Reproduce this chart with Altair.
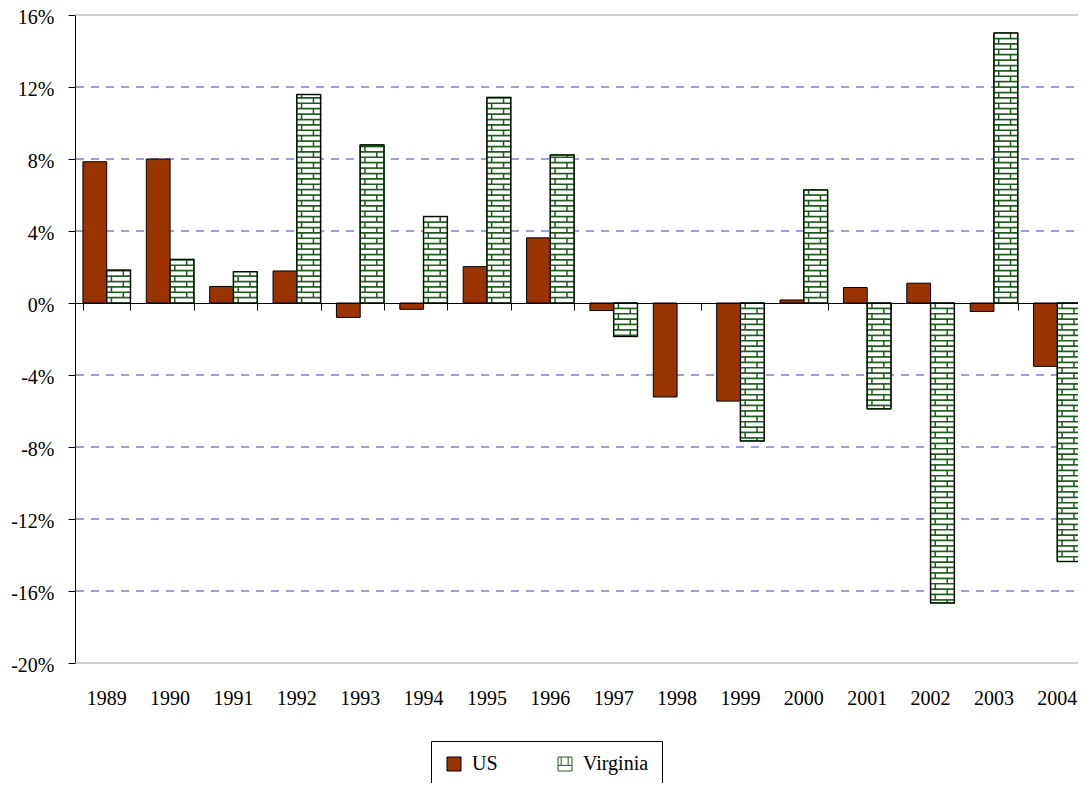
import altair as alt
import numpy as np
import pandas as pd

# ---- data ----
years = [str(y) for y in range(1989, 2005)]
series = ["US", "Virginia"]
us = [7.85, 8.0, 0.92, 1.78, -0.8, -0.35, 2.02, 3.62, -0.42, -5.22, -5.45, 0.17, 0.86, 1.1, -0.47, -3.52]
virginia = [1.82, 2.42, 1.74, 11.58, 8.78, 4.8, 11.42, 8.22, -1.86, 0.0, -7.66, 6.28, -5.88, -16.66, 15.0, -14.36]
y_ticks = [-20, -16, -12, -8, -4, 0, 4, 8, 12, 16]
grid_vals = [-16, -12, -8, -4, 4, 8, 12]
border_vals = [-20, 16]

# ---- styling ----
FONT = "Liberation Serif"
US_COLOR = "#993300"
GREEN = "#1e5c1e"
GRID_BLUE = "#4040b0"
W, H = 1014, 648
BRICK = 0.3  # brick row height in data units (pattern)
BRICK_SYMBOL = "M-1,-1H1V1H-1Z M-1,0.2H1 M-0.55,-1V0.2 M0.45,-1V0.2"

base_df = pd.DataFrame({
    "year": years * 2,
    "series": ["US"] * len(years) + ["Virginia"] * len(years),
    "value": us + virginia,
})
base_df = base_df[base_df["value"] != 0]
va_df = pd.DataFrame({"year": years, "series": "Virginia", "value": virginia})
va_df = va_df[va_df["value"] != 0]

# brick rows derived from the Virginia values (fill pattern)
rows = []
for yr, v in zip(years, virginia):
    n = int(np.ceil(abs(v) / BRICK - 1e-9))
    sgn = 1 if v >= 0 else -1
    for i in range(n):
        rows.append({"year": yr, "series": "Virginia",
                     "lo": sgn * i * BRICK,
                     "hi": sgn * min((i + 1) * BRICK, abs(v)),
                     "parity": i % 2})
rows_df = pd.DataFrame(rows)

x_scale = alt.Scale(domain=years, paddingInner=0.25, paddingOuter=0.125)
xo_scale = alt.Scale(domain=series, paddingInner=0, paddingOuter=0)
y_scale = alt.Scale(domain=[-20, 16], nice=False, zero=False)


def y_axis():
    return alt.Axis(
        orient="left", values=y_ticks, title=None, labelExpr="datum.value + '%'",
        labelFont=FONT, labelFontSize=20, labelColor="black",
        labelPadding=14, labelOffset=2,
        tickSize=7, tickColor="black", tickWidth=1,
        domain=True, domainColor="black", domainWidth=1,
        grid=False,
    )


x_label_axis = alt.Axis(
    title=None, labelAngle=0, labelFont=FONT, labelFontSize=20, labelColor="black",
    labelPadding=25, ticks=False, domain=False, grid=False, orient="bottom",
)

legend = alt.Legend(
    title=None, orient="none", legendX=356, legendY=726,
    direction="horizontal", columns=2, columnPadding=57,
    labelOffset=8, labelFont=FONT, labelFontSize=20, labelColor="black",
    symbolSize=196, symbolStrokeWidth=1,
    strokeColor="black", padding=13,
)

# dashed horizontal gridlines (behind the bars)
grid = alt.Chart(pd.DataFrame({"value": grid_vals})).mark_rule(
    color=GRID_BLUE, strokeWidth=1, strokeDash=[8, 7]).encode(
    y=alt.Y("value:Q", scale=y_scale, axis=y_axis()),
)

# gray plot-area border lines at top and bottom
borders = alt.Chart(pd.DataFrame({"value": border_vals})).mark_rule(
    color="#a0a0a0", strokeWidth=1.2).encode(
    y=alt.Y("value:Q", scale=y_scale, axis=y_axis()),
)

bars = alt.Chart(base_df).mark_bar(stroke="black", strokeWidth=1).encode(
    x=alt.X("year:N", scale=x_scale, sort=years, axis=x_label_axis),
    xOffset=alt.XOffset("series:N", scale=xo_scale, sort=series),
    y=alt.Y("value:Q", scale=y_scale, axis=y_axis()),
    y2=alt.Y2(datum=0),
    fill=alt.condition("datum.series === 'US'", alt.value(US_COLOR), alt.value("white")),
)

bricks = alt.Chart(rows_df).mark_bar(fill="white", stroke=GREEN, strokeWidth=1.5).encode(
    x=alt.X("year:N", scale=x_scale, sort=years, axis=None),
    xOffset=alt.XOffset("series:N", scale=xo_scale, sort=series),
    y=alt.Y("lo:Q", scale=y_scale, axis=y_axis()),
    y2="hi:Q",
)

joints_a = alt.Chart(rows_df).transform_filter("datum.parity == 0").mark_rule(
    stroke=GREEN, strokeWidth=1.5).encode(
    x=alt.X("year:N", scale=x_scale, sort=years, axis=None, bandPosition=0.6),
    y=alt.Y("lo:Q", scale=y_scale, axis=y_axis()),
    y2="hi:Q",
)
joints_b = alt.Chart(rows_df).transform_filter("datum.parity == 1").mark_rule(
    stroke=GREEN, strokeWidth=1.5).encode(
    x=alt.X("year:N", scale=x_scale, sort=years, axis=None, bandPosition=0.85),
    y=alt.Y("lo:Q", scale=y_scale, axis=y_axis()),
    y2="hi:Q",
)

outline = alt.Chart(va_df).mark_bar(fillOpacity=0, stroke="black", strokeWidth=1).encode(
    x=alt.X("year:N", scale=x_scale, sort=years, axis=None),
    xOffset=alt.XOffset("series:N", scale=xo_scale, sort=series),
    y=alt.Y("value:Q", scale=y_scale, axis=y_axis()),
    y2=alt.Y2(datum=0),
)

# legend carrier: points outside the y domain, clipped away
legend_pts = alt.Chart(pd.DataFrame({"series": series, "value": [-30, -30]})).mark_point(
    filled=True, clip=True, strokeWidth=1, size=196, opacity=1).encode(
    y=alt.Y("value:Q", scale=y_scale, axis=y_axis()),
    shape=alt.Shape("series:N", scale=alt.Scale(domain=series, range=["square", BRICK_SYMBOL]), legend=legend),
    fill=alt.Fill("series:N", scale=alt.Scale(domain=series, range=[US_COLOR, "white"]), legend=legend),
    stroke=alt.Stroke("series:N", scale=alt.Scale(domain=series, range=["black", GREEN]), legend=legend),
)

zero_axis = alt.Chart(pd.DataFrame({"year": years})).mark_point(opacity=0).encode(
    x=alt.X("year:N", scale=x_scale, sort=years, axis=alt.Axis(
        orient="bottom", offset=-(H * 20 / 36), tickBand="extent",
        labels=False, domain=True, domainColor="black", domainWidth=1,
        ticks=True, tickSize=7, tickColor="black", tickWidth=1,
        grid=False, title=None, zindex=1)),
)

chart = alt.layer(grid, borders, bars, bricks, joints_a, joints_b, outline, legend_pts, zero_axis).resolve_axis(
    x="independent", y="shared"
).properties(
    width=W, height=H,
    padding={"left": 67, "top": 7, "right": -11, "bottom": 120},
    autosize=alt.AutoSizeParams(type="none"),
    background="white",
).configure(font=FONT).configure_view(strokeWidth=0).configure_axis(
    labelFont=FONT
).configure_legend(labelFont=FONT)

chart.save("out.html", embed_options={"renderer": "svg", "actions": False})
